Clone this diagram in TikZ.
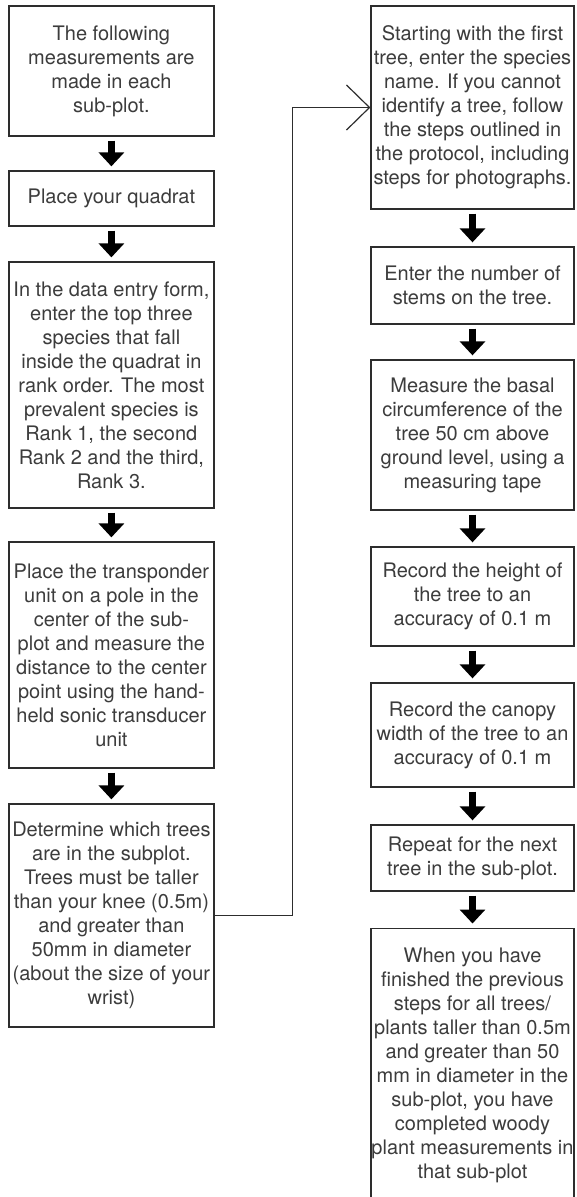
\documentclass[tikz,border=0pt]{standalone}
\usepackage{fontspec}
\setmainfont{TeX Gyre Heros}
\usepackage{xcolor}
\definecolor{boxgray}{RGB}{45,45,45}
\definecolor{textgray}{RGB}{60,60,60}
\usepackage{tikz}
\usetikzlibrary{arrows.meta}

\begin{document}
\begin{tikzpicture}[x=1pt,y=-1pt,
    stepbox/.style={draw=boxgray,line width=1.3pt,text=textgray,align=center,
      inner sep=0pt,font=\fontsize{20}{24}\selectfont},
    leftbox/.style={stepbox,minimum width=205pt},
    rightbox/.style={stepbox,minimum width=203pt},
    blockarrow/.style={line width=6.5pt,-{Triangle[length=14pt,width=25pt]},
      shorten <=4pt,shorten >=4pt},
    jumparrow/.style={draw=boxgray,line width=1.2pt,
      -{Straight Barb[length=23pt,width=45pt,line width=1.2pt]}}]
    \useasboundingbox[fill=white] (0,0) rectangle (576,1197);
    % left column
    \node[leftbox,minimum height=130pt] (made) at (111.4,71)
      {The following\\measurements are\\made in each\\sub-plot.};
    \node[leftbox,minimum height=55pt] (quadrat) at (111.4,198.5)
      {Place your quadrat};
    \node[leftbox,minimum height=246pt] (rank) at (111.4,385)
      {In the data entry form,\\enter the top three\\species that fall\\inside the quadrat in\\rank order. The most\\prevalent species is\\Rank 1, the second\\Rank 2 and the third,\\Rank 3.};
    \node[leftbox,minimum height=226pt] (transponder) at (111.4,655)
      {Place the transponder\\unit on a pole in the\\center of the sub-\\plot and measure the\\distance to the center\\point using the hand-\\held sonic transducer\\unit};
    \node[leftbox,minimum height=223pt] (trees) at (111.4,915.5)
      {Determine which trees\\are in the subplot.\\Trees must be taller\\than your knee (0.5m)\\and greater than\\50mm in diameter\\(about the size of your\\wrist)};
    % right column
    \node[rightbox,minimum height=203pt] (species) at (472.5,107.5)
      {Starting with the first\\tree, enter the species\\name. If you cannot\\identify a tree, follow\\the steps outlined in\\the protocol, including\\steps for photographs.};
    \node[rightbox,minimum height=77pt] (stems) at (472.5,285.5)
      {Enter the number of\\stems on the tree.};
    \node[rightbox,minimum height=150pt] (basal) at (472.5,435)
      {Measure the basal\\circumference of the\\tree 50 cm above\\ground level, using a\\measuring tape};
    \node[rightbox,minimum height=99pt] (height) at (472.5,596.5)
      {Record the height of\\the tree to an\\accuracy of 0.1 m};
    \node[rightbox,minimum height=104pt] (canopy) at (472.5,735)
      {Record the canopy\\width of the tree to an\\accuracy of 0.1 m};
    \node[rightbox,minimum height=66pt] (repeat) at (472.5,858)
      {Repeat for the next\\tree in the sub-plot.};
    \node[rightbox,anchor=north,inner ysep=20pt,text depth=90pt] (finished) at (472.5,927.5)
      {When you have\\finished the previous\\steps for all trees/\\plants taller than 0.5m\\and greater than 50\\mm in diameter in the\\sub-plot, you have\\completed woody\\plant measurements in\\that sub-plot};
    % arrows
    \draw[blockarrow] (made) -- (quadrat);
    \draw[blockarrow] (quadrat) -- (rank);
    \draw[blockarrow] (rank) -- (transponder);
    \draw[blockarrow] (transponder) -- (trees);
    \draw[blockarrow] (species) -- (stems);
    \draw[blockarrow] (stems) -- (basal);
    \draw[blockarrow] (basal) -- (height);
    \draw[blockarrow] (height) -- (canopy);
    \draw[blockarrow] (canopy) -- (repeat);
    \draw[blockarrow] (repeat) -- (finished);
    \draw[jumparrow] (trees.east) -- ++(78,0) |- (species.west);
\end{tikzpicture}
\end{document}
